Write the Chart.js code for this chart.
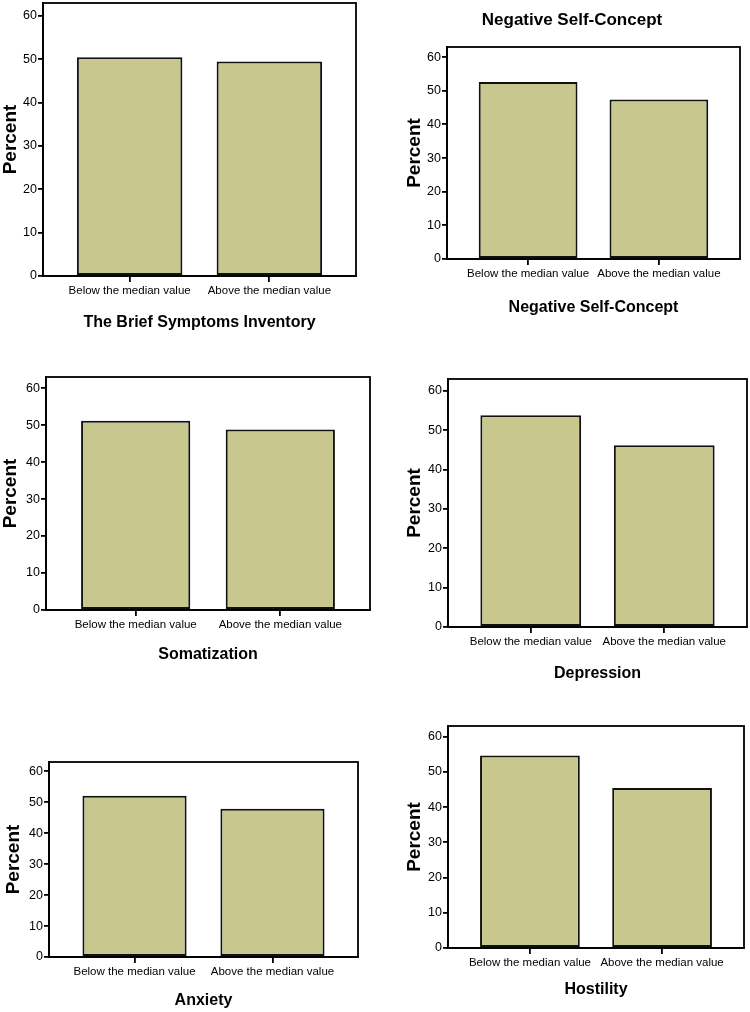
<!DOCTYPE html>
<html lang="en">
<head>
  <meta charset="UTF-8" />
  <title>Median split bar charts</title>
  <script src="https://cdn.jsdelivr.net/npm/chart.js"></script>
  <style>
    body {
      margin: 0;
      background: #fff;
      width: 750px;
      height: 1012px;
      position: relative;
      overflow: hidden;
    }
    canvas {
      position: absolute;
    }
  </style>
</head>
<body>
  <canvas id="c1"></canvas>
  <canvas id="c2"></canvas>
  <canvas id="c3"></canvas>
  <canvas id="c4"></canvas>
  <canvas id="c5"></canvas>
  <canvas id="c6"></canvas>

  <script>
    // data (percent of respondents)
    const categories = ["Below the median value", "Above the median value"];
    const yTicks = [0, 10, 20, 30, 40, 50, 60];
    const briefSymptoms = [50.5, 49.5];
    const negativeSelfConcept = [52.6, 47.4];
    const somatization = [51.2, 48.8];
    const depression = [53.8, 46.2];
    const anxiety = [52.1, 47.9];
    const hostility = [54.6, 45.4];

    Chart.defaults.font.family = "'Liberation Sans', Arial, sans-serif";
    Chart.defaults.color = "#000";

    // frame around the plot area, like the SPSS output
    const framePlugin = {
      id: "frame",
      afterDatasetsDraw(chart) {
        const a = chart.chartArea;
        const ctx = chart.ctx;
        ctx.save();
        ctx.strokeStyle = "#000";
        ctx.lineWidth = 1.8;
        ctx.strokeRect(a.left, a.top, a.right - a.left, a.bottom - a.top);
        ctx.restore();
      }
    };

    function makePanel(id, values, xTitle, box, topTitle) {
      const canvas = document.getElementById(id);
      const width = box.frameRight - box.left + 3;
      const height = box.titleY + 10 - box.top;
      canvas.width = width;
      canvas.height = height;
      canvas.style.left = box.left + "px";
      canvas.style.top = box.top + "px";

      const titleOpts = { display: false };
      let padTop = box.frameTop - box.top;
      if (topTitle) {
        const lh = 17 * 1.2;
        const pt = box.titleTopY - box.top - lh / 2;
        titleOpts.display = true;
        titleOpts.text = topTitle;
        titleOpts.font = { size: 17, weight: "bold", lineHeight: 1.2 };
        titleOpts.color = "#000";
        titleOpts.padding = { top: pt, bottom: box.frameTop - box.top - pt - lh };
        padTop = 0;
      }

      return new Chart(canvas.getContext("2d"), {
        type: "bar",
        data: {
          datasets: [{
            data: values.map((v, i) => ({ x: i, y: v })),
            backgroundColor: "#c8c88e",
            borderColor: "#111",
            borderWidth: 2,
            borderSkipped: false,
            categoryPercentage: 1,
            barPercentage: 0.755
          }]
        },
        options: {
          responsive: false,
          animation: false,
          layout: { padding: { top: padTop, right: 3, left: 0, bottom: 0 } },
          plugins: {
            legend: { display: false },
            tooltip: { enabled: false },
            title: titleOpts
          },
          scales: {
            x: {
              type: "linear",
              offset: false,
              min: -0.62,
              max: 1.62,
              afterBuildTicks: s => { s.ticks = categories.map((c, i) => ({ value: i })); },
              afterFit: s => {
                s.height = box.titleY + 10 - box.frameBottom;
                s.paddingLeft = 0;
                s.paddingRight = 0;
              },
              ticks: {
                callback: v => categories[v],
                font: { size: 11.5 },
                padding: 2,
                maxRotation: 0,
                autoSkip: false
              },
              grid: {
                offset: false,
                drawOnChartArea: false,
                drawTicks: true,
                tickLength: 6,
                color: "#000",
                lineWidth: 1.8
              },
              border: { display: true, color: "#000", width: 1.8 },
              title: {
                display: true,
                text: xTitle,
                font: { size: 16, weight: "bold", lineHeight: 1.25 },
                padding: 0
              }
            },
            y: {
              min: 0,
              max: 63,
              afterBuildTicks: s => { s.ticks = yTicks.map(v => ({ value: v })); },
              afterFit: s => {
                s.width = box.frameLeft - box.left;
                s.paddingTop = 0;
                s.paddingBottom = 0;
              },
              ticks: { font: { size: 12.5 }, padding: 1 },
              grid: {
                drawOnChartArea: false,
                drawTicks: true,
                tickLength: 5,
                color: "#000",
                lineWidth: 1.8
              },
              border: { display: true, color: "#000", width: 1.8 },
              title: {
                display: true,
                text: "Percent",
                font: { size: 19, weight: "bold", lineHeight: 1.15 },
                padding: 0
              }
            }
          }
        },
        plugins: [framePlugin]
      });
    }

    makePanel("c1", briefSymptoms, "The Brief Symptoms Inventory",
      { left: 0, top: 0, frameLeft: 43, frameTop: 3, frameRight: 356, frameBottom: 276, titleY: 323 });
    makePanel("c2", negativeSelfConcept, "Negative Self-Concept",
      { left: 404, top: 0, frameLeft: 447, frameTop: 47, frameRight: 740, frameBottom: 259, titleY: 308, titleTopY: 20 },
      "Negative Self-Concept");
    makePanel("c3", somatization, "Somatization",
      { left: 0, top: 370, frameLeft: 46, frameTop: 377, frameRight: 370, frameBottom: 610, titleY: 655 });
    makePanel("c4", depression, "Depression",
      { left: 404, top: 370, frameLeft: 448, frameTop: 379, frameRight: 747, frameBottom: 627, titleY: 674 });
    makePanel("c5", anxiety, "Anxiety",
      { left: 3, top: 750, frameLeft: 49, frameTop: 762, frameRight: 358, frameBottom: 957, titleY: 1001 });
    makePanel("c6", hostility, "Hostility",
      { left: 404, top: 715, frameLeft: 448, frameTop: 726, frameRight: 744, frameBottom: 948, titleY: 990 });
  </script>
</body>
</html>
